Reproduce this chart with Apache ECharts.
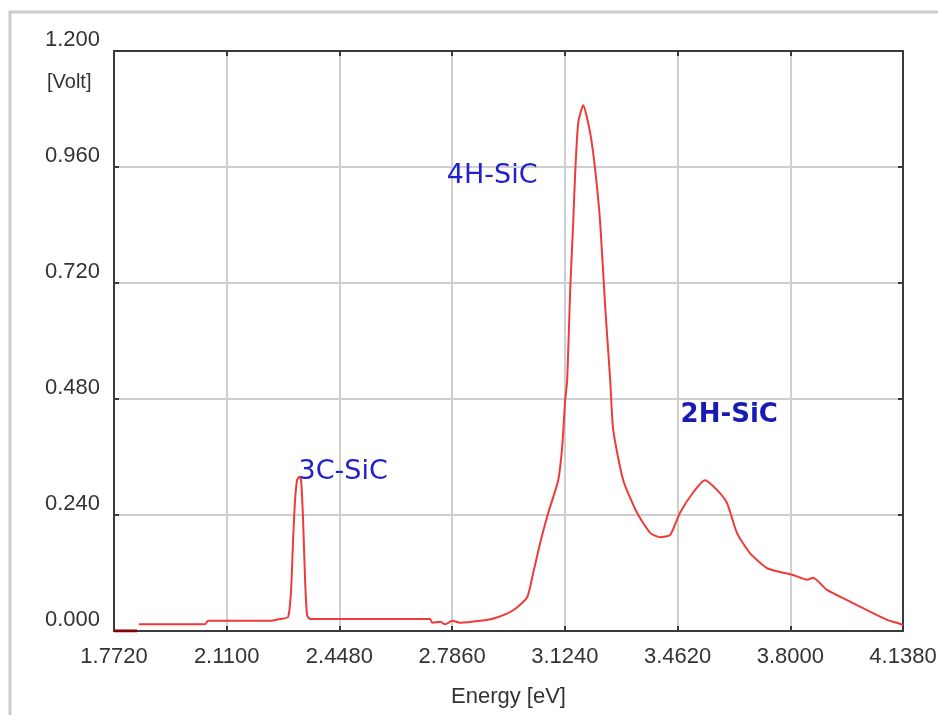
<!DOCTYPE html>
<html>
<head>
<meta charset="utf-8">
<script src="https://cdn.jsdelivr.net/npm/echarts@6/dist/echarts.min.js"></script>
<style>
  html, body { margin: 0; padding: 0; background: #fff; }
  #main { width: 938px; height: 715px; }
</style>
</head>
<body>
<div id="main"></div>
<script>
// spectrum: energy [eV] and signal [Volt]
const energy = [
  1.847, 2.045, 2.054, 2.240, 2.270, 2.294, 2.303, 2.309, 2.315, 2.321,
  2.327, 2.333, 2.339, 2.345, 2.351, 2.360, 2.720, 2.726, 2.750, 2.765,
  2.786, 2.810, 2.870, 2.915, 2.969, 3.011, 3.029, 3.050, 3.074, 3.104,
  3.116, 3.125, 3.131, 3.140, 3.149, 3.155, 3.164, 3.179, 3.200, 3.215,
  3.230, 3.245, 3.260, 3.269, 3.299, 3.341, 3.380, 3.410, 3.440, 3.469,
  3.508, 3.544, 3.580, 3.610, 3.640, 3.679, 3.730, 3.769, 3.808, 3.850,
  3.868, 3.910, 3.970, 4.030, 4.090, 4.120, 4.138
];
const volt = [
  0.014, 0.014, 0.021, 0.021, 0.025, 0.029, 0.085, 0.188, 0.271, 0.312,
  0.319, 0.312, 0.230, 0.106, 0.033, 0.025, 0.025, 0.017, 0.019, 0.014,
  0.021, 0.017, 0.021, 0.027, 0.043, 0.070, 0.120, 0.182, 0.244, 0.312,
  0.381, 0.478, 0.519, 0.706, 0.844, 0.948, 1.051, 1.088, 1.030, 0.954,
  0.844, 0.670, 0.519, 0.416, 0.312, 0.244, 0.203, 0.194, 0.199, 0.244,
  0.286, 0.312, 0.292, 0.265, 0.203, 0.161, 0.130, 0.122, 0.116, 0.106,
  0.110, 0.085, 0.064, 0.043, 0.023, 0.017, 0.012
];
// short dark segment lying on the axis at the start
const startEnergy = [1.772, 1.841];
const startVolt = [0, 0];

// tick positions
const xTicks = [1.772, 2.110, 2.448, 2.786, 3.124, 3.462, 3.800, 4.138];

// peak names and where they are written
const peakNames = ['3C-SiC', '4H-SiC', '2H-SiC'];
const peakX = [2.459, 2.906, 3.617];
const peakY = [0.329, 0.941, 0.447];

const axisFont = "'Liberation Sans', Arial, sans-serif";

const chart = echarts.init(document.getElementById('main'));

const frameLine = { show: true, onZero: false, lineStyle: { color: '#3a3a3a', width: 2 } };
const innerTick = { show: true, inside: true, length: 5, lineStyle: { color: '#3a3a3a', width: 2 } };
const grid = { show: true, lineStyle: { color: '#cfcfcf', width: 2 } };

chart.setOption({
  animation: false,
  backgroundColor: '#fff',
  graphic: [
    {
      type: 'rect',
      shape: { x: 10, y: 12, width: 960, height: 760 },
      style: { fill: 'none', stroke: '#cccccc', lineWidth: 3 }
    },
    {
      type: 'text',
      left: 47, top: 72,
      style: { text: '[Volt]', font: "20px " + axisFont, fill: '#333' }
    }
  ],
  grid: { left: 114, right: 35, top: 51, bottom: 84, outerBoundsMode: 'none', containLabel: false },
  xAxis: [
    {
      type: 'value',
      min: 1.772, max: 4.138,
      name: 'Energy [eV]',
      nameLocation: 'middle',
      nameGap: 55,
      nameTextStyle: { fontFamily: axisFont, fontSize: 22, color: '#333' },
      axisLine: frameLine,
      axisTick: Object.assign({ customValues: xTicks }, innerTick),
      splitLine: grid,
      axisLabel: {
        customValues: xTicks,
        margin: 15,
        fontFamily: axisFont, fontSize: 22, color: '#333',
        formatter: v => v.toFixed(4)
      }
    },
    {
      type: 'value',
      position: 'top',
      min: 1.772, max: 4.138,
      axisLine: frameLine,
      axisTick: Object.assign({ customValues: xTicks }, innerTick),
      axisLabel: { show: false, customValues: xTicks },
      splitLine: { show: false }
    }
  ],
  yAxis: [
    {
      type: 'value',
      min: 0, max: 1.2, interval: 0.24,
      axisLine: frameLine,
      axisTick: innerTick,
      splitLine: grid,
      axisLabel: {
        margin: 14,
        verticalAlign: 'bottom',
        fontFamily: axisFont, fontSize: 22, color: '#333',
        formatter: v => v.toFixed(3)
      }
    },
    {
      type: 'value',
      position: 'right',
      min: 0, max: 1.2, interval: 0.24,
      axisLine: frameLine,
      axisTick: innerTick,
      axisLabel: { show: false },
      splitLine: { show: false }
    }
  ],
  series: [
    {
      type: 'line',
      data: energy.map((e, i) => [e, volt[i]]),
      showSymbol: false,
      smooth: 0.2,
      lineStyle: { color: '#ef3a3a', width: 2 },
      z: 3
    },
    {
      type: 'line',
      data: startEnergy.map((e, i) => [e, startVolt[i]]),
      showSymbol: false,
      lineStyle: { color: '#8a0000', width: 3 },
      z: 4
    },
    {
      type: 'scatter',
      symbolSize: 0,
      silent: true,
      itemStyle: { opacity: 1 },
      data: peakNames.map((n, i) => ({
        value: [peakX[i], peakY[i]],
        name: n,
        label: i === 2 ? { fontWeight: 'bold', fontSize: 26, color: '#1a1ab4' } : {}
      })),
      label: {
        show: true,
        position: 'inside',
        formatter: p => p.name,
        fontFamily: "'DejaVu Sans', sans-serif",
        fontSize: 27,
        color: '#2222cc'
      },
      z: 5
    }
  ]
});
</script>
</body>
</html>
